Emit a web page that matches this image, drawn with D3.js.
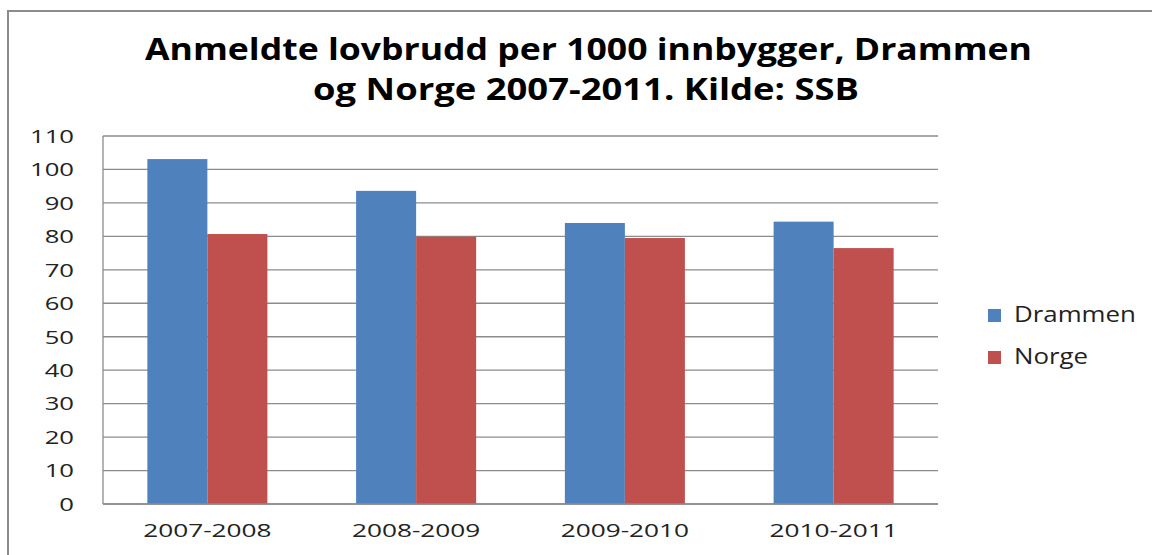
<!DOCTYPE html>
<html>
<head>
<meta charset="utf-8">
<script src="https://cdn.jsdelivr.net/npm/d3@7"></script>
<style>
  body { margin: 0; background: #fff; }
  text { font-family: "Open Sans", "DejaVu Sans", sans-serif; }
</style>
</head>
<body>
<div id="chart"></div>
<script>
// Data
const periods = ["2007-2008", "2008-2009", "2009-2010", "2010-2011"];
const drammen = [103.1, 93.6, 84.0, 84.4];
const norge = [80.7, 79.9, 79.5, 76.5];
const seriesNames = ["Drammen", "Norge"];
const yTicks = [0, 10, 20, 30, 40, 50, 60, 70, 80, 90, 100, 110];
const titleLines = ["Anmeldte lovbrudd per 1000 innbygger, Drammen", "og Norge 2007-2011. Kilde: SSB"];

const colors = ["#4F81BD", "#C0504D"];
const W = 1152, H = 555;
const plot = {left: 103, right: 938, top: 136, bottom: 504};

// the original text is horizontally stretched, widen labels to match
function stretch(sel, k) {
  sel.each(function() {
    const w = this.getComputedTextLength();
    d3.select(this).attr("textLength", w * k).attr("lengthAdjust", "spacingAndGlyphs");
  });
}

const svg = d3.select("#chart").append("svg")
  .attr("width", W).attr("height", H);

// outer chart frame (only left and top visible in the picture)
svg.append("rect")
  .attr("x", 8).attr("y", 11)
  .attr("width", W + 20).attr("height", H + 20)
  .attr("fill", "none").attr("stroke", "#8c8c8c").attr("stroke-width", 2);

// title
svg.selectAll(".title")
  .data(titleLines)
  .join("text")
  .attr("class", "title")
  .attr("x", (d, i) => i === 0 ? 145 : 313)
  .attr("y", (d, i) => i === 0 ? 60 : 100)
  .attr("textLength", (d, i) => i === 0 ? 887 : 546)
  .attr("lengthAdjust", "spacingAndGlyphs")
  .style("font-size", "30px")
  .style("font-weight", "bold")
  .style("fill", "#000")
  .text(d => d);

// scales
const x0 = d3.scaleBand()
  .domain(periods)
  .range([plot.left, plot.right])
  .paddingInner(0.425)
  .paddingOuter(0.2125);

const x1 = d3.scaleBand()
  .domain(seriesNames)
  .range([0, x0.bandwidth()]);

const y = d3.scaleLinear()
  .domain([0, 110])
  .range([plot.bottom, plot.top]);

// gridlines
svg.append("g")
  .selectAll("line")
  .data(yTicks)
  .join("line")
  .attr("x1", plot.left).attr("x2", plot.right)
  .attr("y1", d => y(d)).attr("y2", d => y(d))
  .attr("stroke", "#8c8c8c").attr("stroke-width", 1.3);

// left axis line
svg.append("line")
  .attr("x1", plot.left).attr("x2", plot.left)
  .attr("y1", plot.top).attr("y2", plot.bottom)
  .attr("stroke", "#8c8c8c").attr("stroke-width", 1.3);

// y tick labels
svg.append("g")
  .selectAll("text")
  .data(yTicks)
  .join("text")
  .attr("x", 74)
  .attr("y", d => y(d))
  .attr("dy", "0.36em")
  .attr("text-anchor", "end")
  .style("font-size", "19px")
  .style("fill", "#222")
  .text(d => d)
  .call(stretch, 1.35);

// bars
const rows = periods.map((p, i) => ({period: p, values: [drammen[i], norge[i]]}));

svg.append("g")
  .selectAll("g")
  .data(rows)
  .join("g")
  .attr("transform", d => `translate(${x0(d.period)},0)`)
  .selectAll("rect")
  .data(d => d.values.map((v, j) => ({name: seriesNames[j], value: v, j})))
  .join("rect")
  .attr("x", d => x1(d.name))
  .attr("y", d => y(d.value))
  .attr("width", x1.bandwidth())
  .attr("height", d => y(0) - y(d.value))
  .attr("fill", d => colors[d.j]);

// redraw bottom axis line over bars
svg.append("line")
  .attr("x1", plot.left).attr("x2", plot.right)
  .attr("y1", plot.bottom).attr("y2", plot.bottom)
  .attr("stroke", "#8c8c8c").attr("stroke-width", 1.3);

// category labels
svg.append("g")
  .selectAll("text")
  .data(periods)
  .join("text")
  .attr("x", d => x0(d) + x0.bandwidth() / 2)
  .attr("y", 537)
  .attr("text-anchor", "middle")
  .style("font-size", "19px")
  .style("fill", "#222")
  .text(d => d)
  .call(stretch, 1.38);

// legend
const legend = svg.append("g")
  .selectAll("g")
  .data(seriesNames)
  .join("g")
  .attr("transform", (d, i) => `translate(988,${309 + i * 42})`);

legend.append("rect")
  .attr("width", 13).attr("height", 13)
  .attr("fill", (d, i) => colors[i]);

legend.append("text")
  .attr("x", 26).attr("y", 13)
  .style("font-size", "21px")
  .style("fill", "#222")
  .text(d => d)
  .call(stretch, 1.23);
</script>
</body>
</html>
